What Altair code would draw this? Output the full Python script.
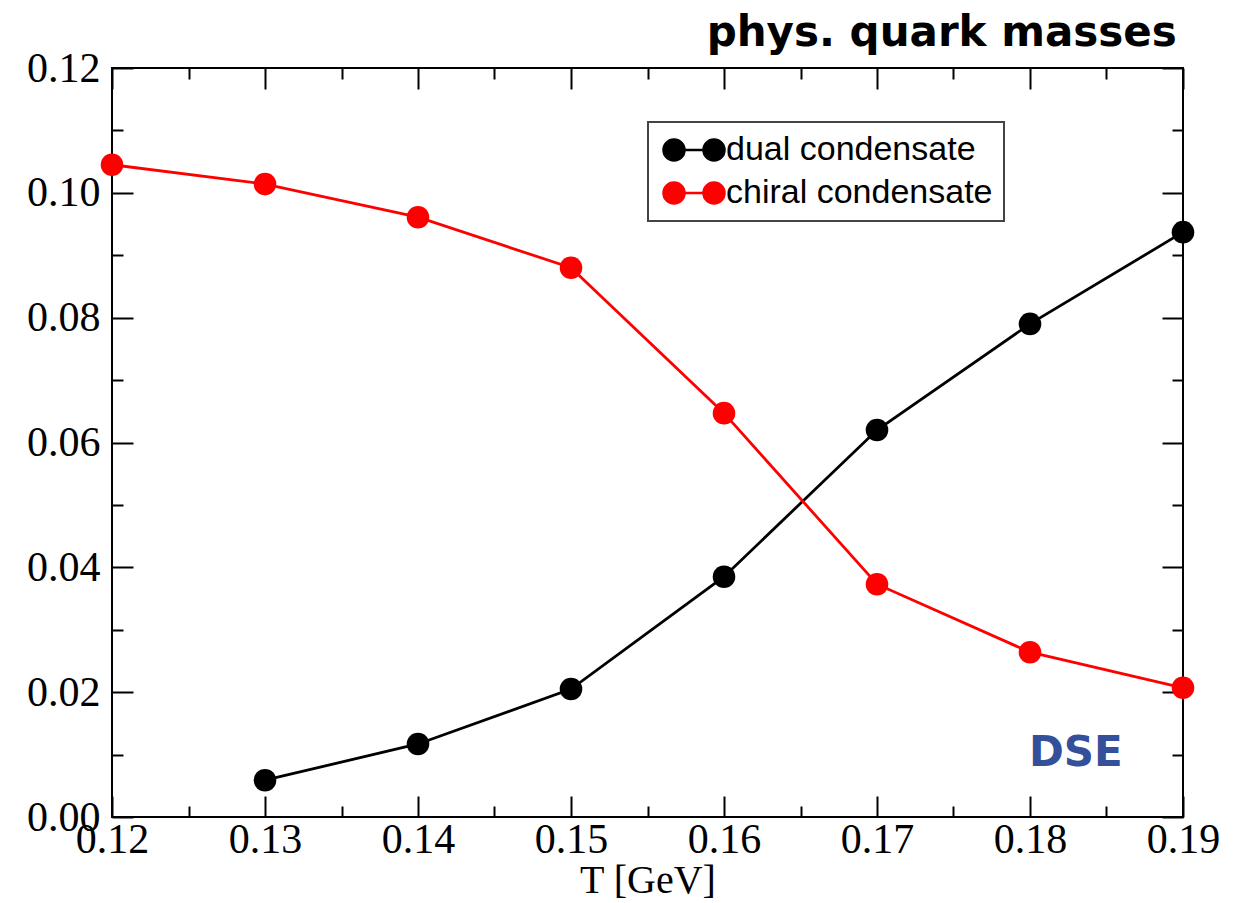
import altair as alt
import pandas as pd

# Temperatures (GeV) and condensate values
temps_chiral = [0.12, 0.13, 0.14, 0.15, 0.16, 0.17, 0.18, 0.19]
chiral = [0.1045, 0.1014, 0.0961, 0.0880, 0.0647, 0.0373, 0.0264, 0.0207]
temps_dual = [0.13, 0.14, 0.15, 0.16, 0.17, 0.18, 0.19]
dual = [0.0059, 0.0117, 0.0205, 0.0385, 0.0620, 0.0790, 0.0937]

series_names = ["dual condensate", "chiral condensate"]
series_colors = ["#000000", "#ff0000"]

x_major = [0.12, 0.13, 0.14, 0.15, 0.16, 0.17, 0.18, 0.19]
x_minor = [0.125, 0.135, 0.145, 0.155, 0.165, 0.175, 0.185]
y_major = [0.0, 0.02, 0.04, 0.06, 0.08, 0.10, 0.12]
y_minor = [0.01, 0.03, 0.05, 0.07, 0.09, 0.11]
x_domain = [0.12, 0.19]
y_domain = [0.0, 0.12]

tag_text = ["DSE"]
tag_T = [0.183]
tag_val = [0.0103]

df = pd.DataFrame(
    {
        "T": temps_dual + temps_chiral,
        "value": dual + chiral,
        "series": [series_names[0]] * len(dual) + [series_names[1]] * len(chiral),
    }
)
tag_df = pd.DataFrame({"T": tag_T, "value": tag_val, "text": tag_text})

W, H = 1071, 749
MAJOR, MINOR = 21, 11
SERIF = "Liberation Serif"

# legend glyph: two dots joined by a short line
legend_symbol = (
    "M-2,0L2,0"
    "M-0.95,0A1.05,1.05 0 1 1 -3.05,0A1.05,1.05 0 1 1 -0.95,0Z"
    "M3.05,0A1.05,1.05 0 1 1 0.95,0A1.05,1.05 0 1 1 3.05,0Z"
)


def xenc(axis):
    return alt.X("T:Q", scale=alt.Scale(domain=x_domain, nice=False, zero=False), axis=axis)


def yenc(axis):
    return alt.Y("value:Q", scale=alt.Scale(domain=y_domain, nice=False, zero=False), axis=axis)


color = alt.Color(
    "series:N",
    scale=alt.Scale(domain=series_names, range=series_colors),
    sort=series_names,
    legend=alt.Legend(
        title=None,
        orient="none",
        legendX=536,
        legendY=54,
        symbolType=legend_symbol,
        symbolSize=400,
        symbolStrokeWidth=2.5,
        symbolOffset=18,
        labelOffset=15,
        labelFont="Liberation Sans",
        labelFontSize=34,
        labelColor="black",
        labelLimit=500,
        rowPadding=9,
        padding=11,
        strokeColor="#444444",
        fillColor="white",
    ),
)

points = (
    alt.Chart(df)
    .mark_point(filled=True, opacity=1, size=510)
    .encode(
        x=xenc(
            alt.Axis(
                orient="bottom",
                offset=-MAJOR,
                tickSize=MAJOR,
                values=x_major,
                format=".2f",
                labelPadding=2,
                title="T [GeV]",
                titlePadding=0,
            )
        ),
        y=yenc(
            alt.Axis(
                orient="left",
                offset=-MAJOR,
                tickSize=MAJOR,
                values=y_major,
                format=".2f",
                labelPadding=12,
                title=None,
            )
        ),
        color=color,
    )
)

lines = (
    alt.Chart(df)
    .mark_line(strokeWidth=2.8)
    .encode(
        x=xenc(None),
        y=yenc(None),
        color=alt.Color("series:N", scale=alt.Scale(domain=series_names, range=series_colors), legend=None),
        detail="series:N",
    )
)

minor_bl = (
    alt.Chart(df)
    .mark_point(opacity=0)
    .encode(
        x=xenc(alt.Axis(orient="bottom", offset=-MINOR, tickSize=MINOR, values=x_minor, labels=False, title=None)),
        y=yenc(alt.Axis(orient="left", offset=-MINOR, tickSize=MINOR, values=y_minor, labels=False, title=None)),
    )
)

major_tr = (
    alt.Chart(df)
    .mark_point(opacity=0)
    .encode(
        x=xenc(alt.Axis(orient="top", offset=-MAJOR, tickSize=MAJOR, values=x_major, labels=False, title=None)),
        y=yenc(alt.Axis(orient="right", offset=-MAJOR, tickSize=MAJOR, values=y_major, labels=False, title=None)),
    )
)

minor_tr = (
    alt.Chart(df)
    .mark_point(opacity=0)
    .encode(
        x=xenc(alt.Axis(orient="top", offset=-MINOR, tickSize=MINOR, values=x_minor, labels=False, title=None)),
        y=yenc(alt.Axis(orient="right", offset=-MINOR, tickSize=MINOR, values=y_minor, labels=False, title=None)),
    )
)

tag = (
    alt.Chart(tag_df)
    .mark_text(font="DejaVu Sans", fontWeight="bold", fontSize=42, color="#34509a", align="center", baseline="middle")
    .encode(x=xenc(None), y=yenc(None), text="text:N")
)

chart = (
    alt.layer(points, lines, minor_bl, major_tr, minor_tr, tag)
    .resolve_scale(x="independent", y="independent")
    .properties(
        width=W,
        height=H,
        autosize=alt.AutoSizeParams(type="none"),
        padding={"left": 112, "top": 68, "right": 67, "bottom": 86},
        title=alt.TitleParams(
            "phys. quark masses",
            anchor="end",
            font="DejaVu Sans",
            fontWeight="bold",
            fontSize=42,
            color="black",
            offset=-8,
            dx=-43,
        ),
    )
    .configure_view(stroke="black", strokeWidth=2)
    .configure_legend(strokeWidth=2)
    .configure_axis(
        grid=False,
        domain=False,
        tickColor="black",
        tickWidth=2,
        labelFont=SERIF,
        labelFontSize=42,
        labelColor="black",
        labelFlush=False,
        labelOverlap=False,
        titleFont=SERIF,
        titleFontSize=40,
        titleFontWeight="normal",
        titleColor="black",
    )
)

chart.save("out.html", embed_options={"renderer": "svg", "actions": False})
